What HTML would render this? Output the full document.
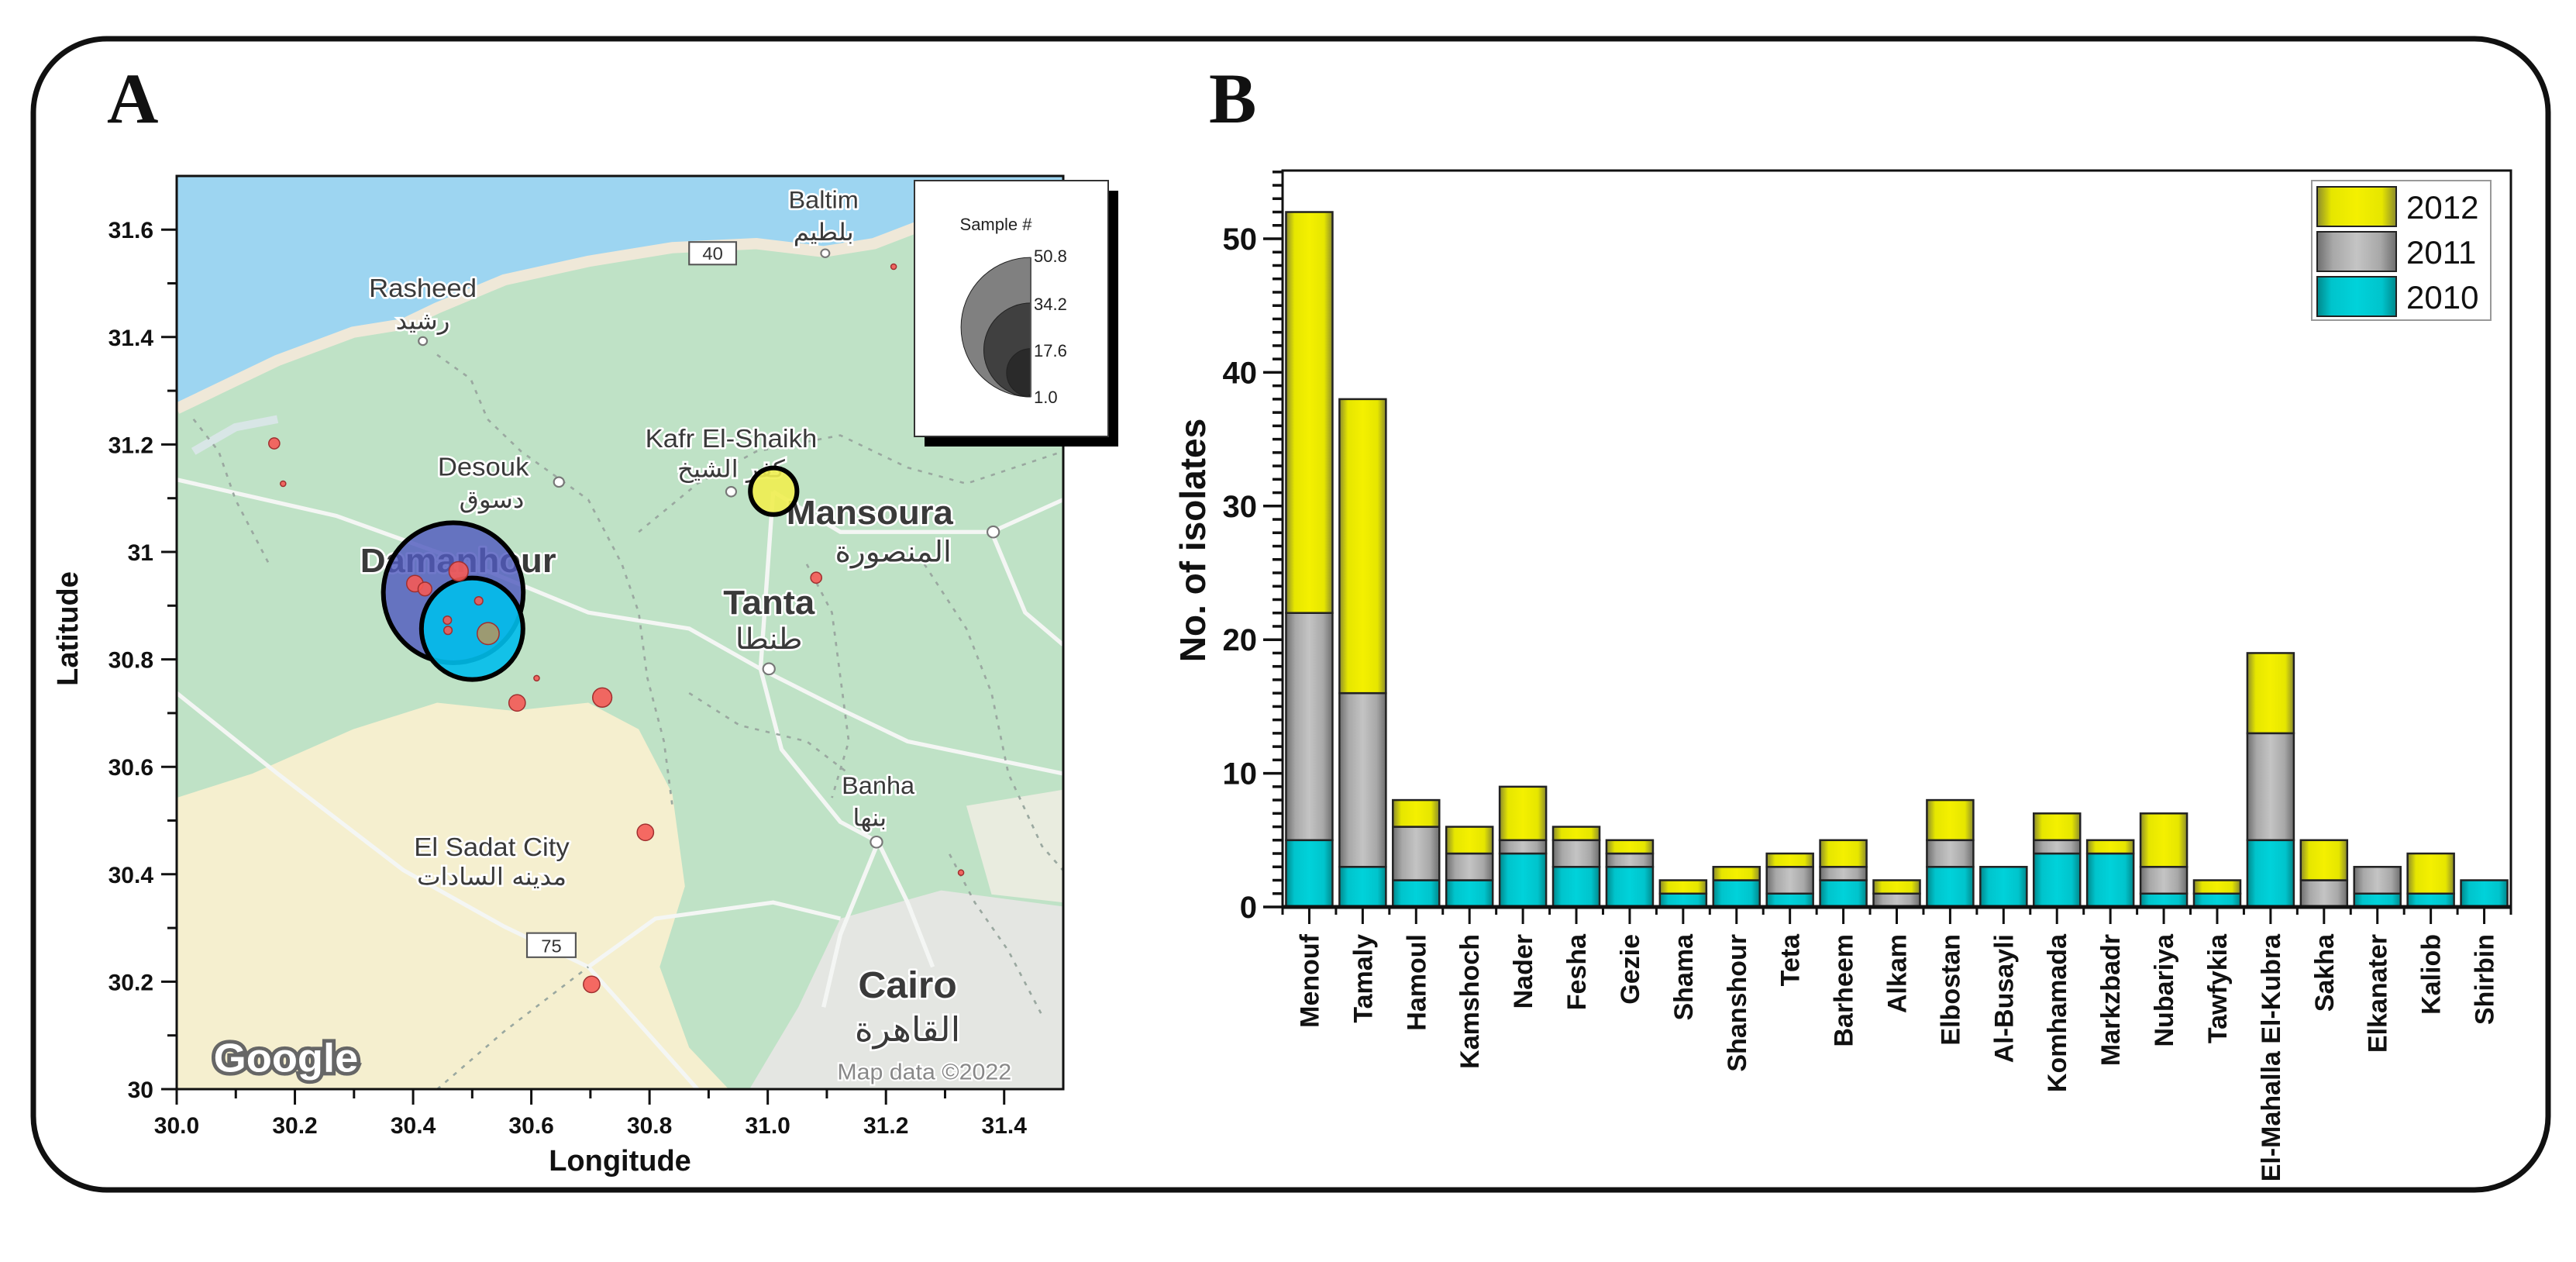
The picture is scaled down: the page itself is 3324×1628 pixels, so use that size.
<!DOCTYPE html>
<html><head><meta charset="utf-8">
<style>
html,body{margin:0;padding:0;background:#fff;}
svg{display:block;}
.tk{font-family:"Liberation Sans",Arial,sans-serif;font-weight:bold;fill:#111;}
.ml{font-family:"Liberation Sans","DejaVu Sans",sans-serif;fill:#3a3a3a;stroke:#fff;stroke-width:5;paint-order:stroke;stroke-linejoin:round;}
.ar{font-family:"DejaVu Sans",sans-serif;fill:#3a3a3a;stroke:#fff;stroke-width:5;paint-order:stroke;}
</style></head>
<body>
<svg id="fig" width="3324" height="1628" viewBox="0 0 3324 1628" xmlns="http://www.w3.org/2000/svg">
<defs>
  <clipPath id="mapclip"><rect x="228" y="227" width="1144" height="1178"/></clipPath>
  <linearGradient id="gY" x1="0" x2="1" y1="0" y2="0"><stop offset="0" stop-color="#8c8c2c"/><stop offset="0.18" stop-color="#e6e600"/><stop offset="0.5" stop-color="#f4f000"/><stop offset="0.82" stop-color="#e6e600"/><stop offset="1" stop-color="#8c8c2c"/></linearGradient>
  <linearGradient id="gG" x1="0" x2="1" y1="0" y2="0"><stop offset="0" stop-color="#6e6e6e"/><stop offset="0.2" stop-color="#a8a8a8"/><stop offset="0.5" stop-color="#c4c4c4"/><stop offset="0.8" stop-color="#a8a8a8"/><stop offset="1" stop-color="#6e6e6e"/></linearGradient>
  <linearGradient id="gC" x1="0" x2="1" y1="0" y2="0"><stop offset="0" stop-color="#00888c"/><stop offset="0.18" stop-color="#00c4cc"/><stop offset="0.5" stop-color="#00d2da"/><stop offset="0.82" stop-color="#00c4cc"/><stop offset="1" stop-color="#00888c"/></linearGradient>
</defs>

<rect x="43" y="50" width="3245" height="1485" rx="95" ry="95" fill="none" stroke="#111" stroke-width="7"/>
<text x="138" y="158" font-family="Liberation Serif,serif" font-weight="bold" font-size="92" fill="#111">A</text>
<text x="1560" y="158" font-family="Liberation Serif,serif" font-weight="bold" font-size="92" fill="#111">B</text>

<g id="map">
 <g clip-path="url(#mapclip)">
  <g transform="matrix(1.084 0 0 1.039 0.36 0.5)">
   <rect x="200" y="210" width="1080" height="1150" fill="#bfe2c6"/>
   <path d="M210,990 L300,960 L420,905 L520,872 L610,882 L700,872 L760,905 L800,985 L815,1100 L785,1200 L820,1300 L870,1355 L210,1355 Z" fill="#f5efcf"/>
   <path d="M1000,1140 L1120,1105 L1265,1125 L1265,1355 L890,1355 L950,1250 Z" fill="#e4e6e2"/>
   <path d="M1150,1000 L1265,980 L1265,1120 L1180,1110 Z" fill="#e9ecdf"/>
   <path d="M210,218 L1265,218 L1265,262 L1090,282 L1040,302 L980,312 L900,302 L800,307 L700,324 L600,347 L520,382 L480,402 L420,412 L330,447 L260,482 L210,507 Z" fill="#9dd5f1"/>
   <path d="M210,507 L260,482 L330,447 L420,412 L480,402 L520,382 L600,347 L700,324 L800,307 L900,302 L980,312 L1040,302 L1090,282 L1265,262" fill="none" stroke="#efe8d8" stroke-width="14"/>
   <path d="M230,560 L280,530 L330,520" fill="none" stroke="#d8e6e6" stroke-width="10"/>
   <g fill="none" stroke="#f4f6f4" stroke-width="5">
    <path d="M210,595 L400,640 L560,700 L700,760 L820,780 L905,830 L1000,880 L1080,920 L1265,960"/>
    <path d="M210,860 L330,960 L480,1080 L600,1150 L700,1200 L760,1270 L830,1352"/>
    <path d="M905,830 L930,930 L1000,1020 L1045,1045 L1080,1120 L1110,1200"/>
    <path d="M1045,1045 L1000,1160 L980,1250"/>
    <path d="M920,610 L1000,660 L1180,660 L1265,620"/>
    <path d="M920,610 L905,830"/>
    <path d="M1180,660 L1220,760 L1265,800"/>
    <path d="M700,1200 L780,1140 L920,1120 L1000,1140"/>
   </g>
   <g fill="none" stroke="#9aa8a0" stroke-width="2.5" stroke-dasharray="5 8">
    <path d="M520,440 L560,470 L580,520 L620,560 L700,620 L740,700 L760,760 L770,840 L790,920 L800,1000"/>
    <path d="M760,660 L830,600 L900,560 L1000,540 L1080,580 L1150,600 L1265,560"/>
    <path d="M960,700 L990,760 L1000,840 L1010,920 L990,990"/>
    <path d="M1100,700 L1150,780 L1180,860 L1200,960 L1240,1050 L1265,1080"/>
    <path d="M230,520 L260,560 L280,620 L320,700"/>
    <path d="M820,860 L880,900 L960,920 L1010,960"/>
    <path d="M1130,1060 L1160,1120 L1200,1180 L1240,1260"/>
    <path d="M520,1352 L600,1280 L700,1200"/>
   </g>
   <text class="ml" x="980" y="258" font-size="30" text-anchor="middle">Baltim</text>
   <text class="ar" x="980" y="298" font-size="30" text-anchor="middle">بلطيم</text>
   <circle cx="982" cy="314" r="5" fill="#fff" stroke="#777" stroke-width="2"/>
   <rect x="820" y="300" width="56" height="28" fill="#fff" stroke="#555" stroke-width="2"/>
   <text x="848" y="322" font-family="Liberation Sans,sans-serif" font-size="22" fill="#333" text-anchor="middle">40</text>
   <text class="ml" x="503" y="368" font-size="32" text-anchor="middle">Rasheed</text>
   <text class="ar" x="503" y="408" font-size="30" text-anchor="middle">رشيد</text>
   <circle cx="503" cy="423" r="5" fill="#fff" stroke="#777" stroke-width="2"/>
   <text class="ml" x="870" y="555" font-size="32" text-anchor="middle">Kafr El-Shaikh</text>
   <text class="ar" x="870" y="592" font-size="30" text-anchor="middle">كفر الشيخ</text>
   <circle cx="870" cy="610" r="6" fill="#fff" stroke="#777" stroke-width="2"/>
   <text class="ml" x="575" y="590" font-size="32" text-anchor="middle">Desouk</text>
   <circle cx="665" cy="598" r="6" fill="#fff" stroke="#777" stroke-width="2"/>
   <text class="ar" x="585" y="630" font-size="30" text-anchor="middle">دسوق</text>
   <text class="ml" x="545" y="710" font-size="42" font-weight="bold" text-anchor="middle">Damanhour</text>
   <text class="ml" x="1035" y="650" font-size="42" font-weight="bold" text-anchor="middle">Mansoura</text>
   <circle cx="1182" cy="660" r="7" fill="#fff" stroke="#777" stroke-width="2"/>
   <text class="ar" x="1063" y="697" font-size="36" text-anchor="middle">المنصورة</text>
   <text class="ml" x="915" y="762" font-size="42" font-weight="bold" text-anchor="middle">Tanta</text>
   <text class="ar" x="915" y="805" font-size="36" text-anchor="middle">طنطا</text>
   <circle cx="915" cy="830" r="7" fill="#fff" stroke="#777" stroke-width="2"/>
   <text class="ml" x="1045" y="985" font-size="30" text-anchor="middle">Banha</text>
   <text class="ar" x="1035" y="1025" font-size="30" text-anchor="middle">بنها</text>
   <circle cx="1043" cy="1045" r="7" fill="#fff" stroke="#777" stroke-width="2"/>
   <text class="ml" x="585" y="1062" font-size="32" text-anchor="middle">El Sadat City</text>
   <text class="ar" x="585" y="1098" font-size="30" text-anchor="middle">مدينه السادات</text>
   <rect x="627" y="1158" width="58" height="30" fill="#fff" stroke="#555" stroke-width="2"/>
   <text x="656" y="1182" font-family="Liberation Sans,sans-serif" font-size="22" fill="#333" text-anchor="middle">75</text>
   <text class="ml" x="1080" y="1238" font-size="46" font-weight="bold" text-anchor="middle">Cairo</text>
   <text class="ar" x="1080" y="1292" font-size="42" text-anchor="middle">القاهرة</text>
   <text x="340" y="1330" font-family="Liberation Sans,sans-serif" font-size="50" font-weight="bold" fill="#fff" stroke="#666" stroke-width="9" paint-order="stroke" text-anchor="middle">Google</text>
   <text x="1100" y="1340" font-family="Liberation Sans,sans-serif" font-size="28" fill="#888" stroke="#fff" stroke-width="4" paint-order="stroke" text-anchor="middle">Map data ©2022</text>
  </g>
  <g id="markers"></g>
 </g>
 <rect x="228" y="227" width="1144" height="1178" fill="none" stroke="#111" stroke-width="3"/>
 <g id="mapaxes"></g>
 <text class="tk" x="800" y="1510" font-size="38" text-anchor="middle">Longitude</text>
 <text class="tk" x="0" y="0" font-size="38" text-anchor="middle" transform="translate(100,811) rotate(-90)">Latitude</text>
 <g>
  <rect x="1193" y="246" width="250" height="330" fill="#000"/>
  <rect x="1180" y="233" width="250" height="330" fill="#fff" stroke="#333" stroke-width="2"/>
  <text x="1285" y="297" font-family="Liberation Sans,sans-serif" font-size="22" fill="#222" text-anchor="middle">Sample #</text>
  <g id="sizeleg"></g>
 </g>
</g>

<g id="bars">
 <rect x="1655" y="220" width="1585" height="950" fill="#fff" stroke="#111" stroke-width="3"/>
 <g id="barmarks"></g>
 <g id="baraxes"></g>
 <text class="tk" x="0" y="0" font-size="46" text-anchor="middle" transform="translate(1555,697) rotate(-90)">No. of isolates</text>
 <g>
  <rect x="2983" y="233" width="231" height="180" fill="#fff" stroke="#999" stroke-width="2"/>
  <g id="barleg"></g>
 </g>
</g>
</svg>

<script>
const districts = ["Menouf","Tamaly","Hamoul","Kamshoch","Nader","Fesha","Gezie","Shama","Shanshour","Teta","Barheem","Alkam","Elbostan","Al-Busayli","Komhamada","Markzbadr","Nubariya","Tawfykia","El-Mahalla El-Kubra","Sakha","Elkanater","Kaliob","Shirbin"];
const y2010 = [5,3,2,2,4,3,3,1,2,1,2,0,3,3,4,4,1,1,5,0,1,1,2];
const y2011 = [17,13,4,2,1,2,1,0,0,2,1,1,2,0,1,0,2,0,8,2,2,0,0];
const y2012 = [30,22,2,2,4,1,1,1,1,1,2,1,3,0,2,1,4,1,6,3,0,3,0];
const seriesNames = ["2012","2011","2010"];
const yTicks = [0,10,20,30,40,50];

const siteLon = [30.468,30.500,30.527,31.010,30.477,30.403,30.420,30.458,30.511,30.459,30.576,30.720,30.609,30.165,30.180,31.082,30.793,30.702,31.327,31.213];
const siteLat = [30.924,30.857,30.848,31.113,30.964,30.941,30.931,30.873,30.909,30.854,30.719,30.729,30.765,31.202,31.127,30.952,30.478,30.195,30.403,31.531];
const siteSamples = [51,37,8,17,7,6,5,3,3,3,6,7,2,4,2,4,6,6,2,2];
const siteGroup = ["blue","cyan","olive","yellow","red","red","red","red","red","red","red","red","red","red","red","red","red","red","red","red"];
const lonTicks = [30.0,30.2,30.4,30.6,30.8,31.0,31.2,31.4];
const latTicks = [30,30.2,30.4,30.6,30.8,31,31.2,31.4,31.6];
const sizeLegendValues = [50.8,34.2,17.6,1.0];

const NS = "http://www.w3.org/2000/svg";
function mk(tag, attrs, parent){const e=document.createElementNS(NS,tag);for(const k in attrs)e.setAttribute(k,attrs[k]);parent.appendChild(e);return e;}

const mapX = lon => 228 + (lon-30.0)/1.5*1144;
const mapY = lat => 1405 - (lat-30.0)*693;
const rScale = n => n*1.77;
const groupFill = {blue:"rgba(80,90,190,0.82)",cyan:"rgba(0,190,235,0.9)",olive:"#9c9a72",yellow:"rgba(240,238,80,0.9)",red:"rgba(245,90,85,0.9)"};

const mg=document.getElementById('markers');
for(let i=0;i<siteLon.length;i++){
  const g=siteGroup[i];
  const big = siteSamples[i]>=15;
  const c=mk('circle',{cx:mapX(siteLon[i]),cy:mapY(siteLat[i]),r:rScale(siteSamples[i]),fill:groupFill[g],stroke:big?"#000":"#a03030","stroke-width":big?6:1.5},mg);
  
  
}
const ma=document.getElementById('mapaxes');
lonTicks.forEach((v)=>{
  const x=mapX(v);
  mk('line',{x1:x,x2:x,y1:1405,y2:1425,stroke:"#111","stroke-width":3},ma);
  const t=mk('text',{x:x,y:1462,class:"tk","font-size":30,"text-anchor":"middle"},ma);t.textContent=v.toFixed(1);
  
  
  const xm=mapX(v+0.1);
  if(xm<1372) mk('line',{x1:xm,x2:xm,y1:1405,y2:1417,stroke:"#111","stroke-width":3},ma);
});
latTicks.forEach((v)=>{
  const y=mapY(v);
  mk('line',{x1:208,x2:228,y1:y,y2:y,stroke:"#111","stroke-width":3},ma);
  const t=mk('text',{x:198,y:y+11,class:"tk","font-size":30,"text-anchor":"end"},ma);t.textContent=String(+v.toFixed(1));
  
  
  const ym=mapY(v+0.1);
  if(ym>227) mk('line',{x1:216,x2:228,y1:ym,y2:ym,stroke:"#111","stroke-width":3},ma);
});
const sl=document.getElementById('sizeleg');
const shades=["#808080","#404040","#2a2a2a","#111"];
const lcx=1330, lby=512, labelYs=[330,392,452,512];
sizeLegendValues.forEach((v,i)=>{
  const r=Math.max(rScale(v),2);
  const p=mk('path',{d:`M${lcx},${lby} A${r},${r} 0 0 1 ${lcx},${lby-2*r} Z`,fill:shades[i],stroke:"#222","stroke-width":1},sl);
  
  
  const t=mk('text',{x:lcx+4,y:labelYs[i]+8,"font-family":"Liberation Sans,sans-serif","font-size":22,fill:"#222"},sl);t.textContent=v.toFixed(1);
  
  
});
mk('line',{x1:lcx,x2:lcx,y1:lby-2*rScale(50.8),y2:lby,stroke:"#555","stroke-width":2},sl);

const x0=1655, band=(3240-1655)/districts.length, bw=60;
const bx = i => x0 + band*(i+0.5);
const by = v => 1170 - v*17.24;
const bm=document.getElementById('barmarks');
districts.forEach((d,i)=>{
  const stacks=[[y2010[i],"url(#gC)","2010"],[y2011[i],"url(#gG)","2011"],[y2012[i],"url(#gY)","2012"]];
  let base=0;
  stacks.forEach(s=>{
    if(s[0]<=0)return;
    const r=mk('rect',{x:bx(i)-bw/2,y:by(base+s[0]),width:bw,height:by(base)-by(base+s[0]),fill:s[1],stroke:"#222","stroke-width":2.5},bm);
    
    
    base+=s[0];
  });
});
const ba=document.getElementById('baraxes');
mk('line',{x1:1655,x2:3240,y1:1170,y2:1170,stroke:"#111","stroke-width":5},ba);
for(let v=0;v<=55;v++){
  const y=by(v), major=v%10===0;
  mk('line',{x1:major?1630:1642,x2:1655,y1:y,y2:y,stroke:"#111","stroke-width":3.5},ba);
}
yTicks.forEach(v=>{
  const t=mk('text',{x:1622,y:by(v)+14,class:"tk","font-size":40,"text-anchor":"end"},ba);t.textContent=v;
  
  
});
for(let i=0;i<=districts.length;i++){
  const xe=x0+band*i;
  mk('line',{x1:xe,x2:xe,y1:1170,y2:1180,stroke:"#111","stroke-width":3},ba);
}
districts.forEach((d,i)=>{
  mk('line',{x1:bx(i),x2:bx(i),y1:1170,y2:1192,stroke:"#111","stroke-width":3},ba);
  const t=mk('text',{x:0,y:0,class:"tk","font-size":34,"text-anchor":"end",transform:`translate(${bx(i)+12},1205) rotate(-90)`},ba);
  t.textContent=d;
  
  
});
const bl=document.getElementById('barleg');
const legFill=["url(#gY)","url(#gG)","url(#gC)"];
seriesNames.forEach((s,i)=>{
  const y=241+i*58;
  const r=mk('rect',{x:2990,y:y,width:102,height:51,fill:legFill[i],stroke:"#222","stroke-width":2},bl);
  
  
  const t=mk('text',{x:3105,y:y+41,"font-family":"Liberation Sans,sans-serif","font-size":42,fill:"#111"},bl);t.textContent=s;
  
  
});
</script>
</body></html>
